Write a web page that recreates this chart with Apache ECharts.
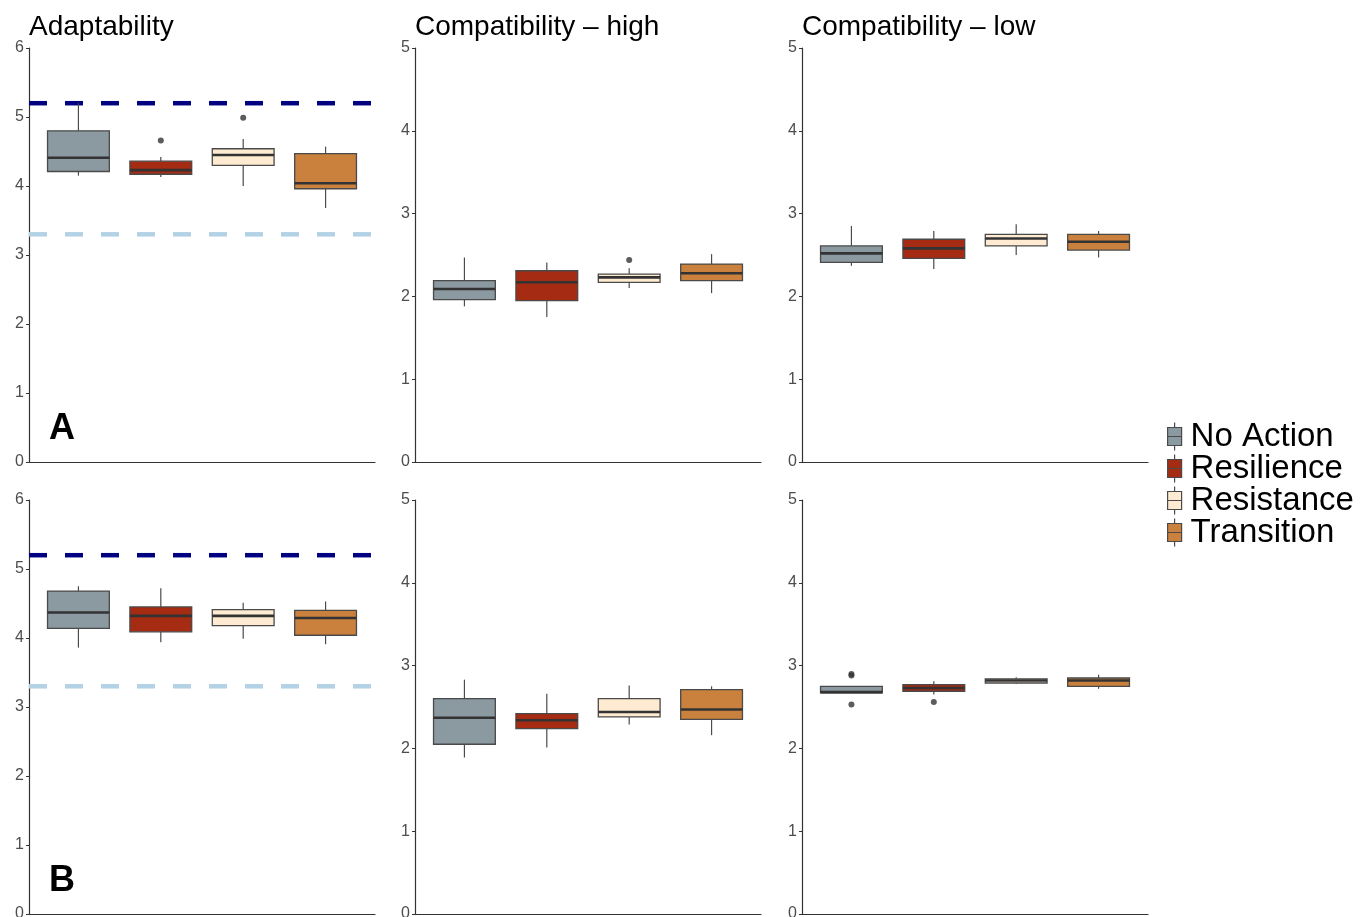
<!DOCTYPE html>
<html>
<head>
<meta charset="utf-8">
<script src="https://cdn.jsdelivr.net/npm/echarts@6/dist/echarts.min.js"></script>
<style>
  html, body { margin: 0; padding: 0; background: #fff; }
  #main { width: 1360px; height: 917px; }
</style>
</head>
<body>
<div id="main"></div>
<script>
// groups (legend order)
const groups = ['No Action', 'Resilience', 'Resistance', 'Transition'];
const groupColors = ['#8B99A1', '#A62B13', '#FEEBD1', '#C9813D'];

// panel titles (top row only) and row letters
const panelTitles = ['Adaptability', 'Compatibility \u2013 high', 'Compatibility \u2013 low'];
const rowLetters = ['A', 'B'];

// y axis maximum per column
const yMax = [6, 5, 5];

// reference lines on the Adaptability panels
const refHigh = 5.2;
const refLow = 3.3;

// box stats per group: [min, Q1, median, Q3, max]
// row A
const adaptA = [
  [4.15, 4.21, 4.41, 4.80, 5.20],
  [4.13, 4.17, 4.23, 4.36, 4.42],
  [4.00, 4.30, 4.45, 4.54, 4.68],
  [3.68, 3.96, 4.04, 4.47, 4.57]
];
const highA = [
  [1.88, 1.96, 2.09, 2.19, 2.47],
  [1.75, 1.95, 2.17, 2.31, 2.41],
  [2.10, 2.17, 2.23, 2.27, 2.34],
  [2.04, 2.19, 2.28, 2.39, 2.51]
];
const lowA = [
  [2.37, 2.41, 2.52, 2.61, 2.85],
  [2.33, 2.46, 2.58, 2.69, 2.79],
  [2.50, 2.61, 2.70, 2.75, 2.87],
  [2.47, 2.56, 2.66, 2.75, 2.79]
];
// row B
const adaptB = [
  [3.86, 4.14, 4.37, 4.68, 4.75],
  [3.94, 4.09, 4.32, 4.45, 4.72],
  [3.99, 4.18, 4.32, 4.41, 4.51],
  [3.91, 4.04, 4.29, 4.40, 4.53]
];
const highB = [
  [1.89, 2.05, 2.37, 2.60, 2.83],
  [2.01, 2.24, 2.34, 2.42, 2.66],
  [2.29, 2.38, 2.44, 2.60, 2.76],
  [2.16, 2.35, 2.47, 2.71, 2.75]
];
const lowB = [
  [2.67, 2.67, 2.68, 2.75, 2.75],
  [2.65, 2.69, 2.73, 2.77, 2.81],
  [2.78, 2.79, 2.82, 2.84, 2.86],
  [2.72, 2.75, 2.82, 2.85, 2.89]
];

// outliers: [group index (1-based), value]
const adaptAOut = [[2, 4.66], [3, 4.99]];
const highAOut = [[3, 2.44]];
const lowAOut = [];
const adaptBOut = [];
const highBOut = [];
const lowBOut = [[1, 2.88], [1, 2.90], [1, 2.53], [2, 2.56]];

const panels = [
  { stats: adaptA, out: adaptAOut, col: 0, row: 0 },
  { stats: highA, out: highAOut, col: 1, row: 0 },
  { stats: lowA, out: lowAOut, col: 2, row: 0 },
  { stats: adaptB, out: adaptBOut, col: 0, row: 1 },
  { stats: highB, out: highBOut, col: 1, row: 1 },
  { stats: lowB, out: lowBOut, col: 2, row: 1 }
];

const FONT = '"Liberation Sans", Arial, sans-serif';
const colLeft = [29, 415, 802];
const rowTop = [48, 500];
const plotW = 346;
const plotH = 414;
const edge = '#4a4a4a';

// draws one ggplot style box: whiskers with no caps, box, thick median
function renderBox(params, api) {
  const x = api.value(0);
  const lo = api.coord([x, api.value(1)]);
  const q1 = api.coord([x, api.value(2)]);
  const md = api.coord([x, api.value(3)]);
  const q3 = api.coord([x, api.value(4)]);
  const hi = api.coord([x, api.value(5)]);
  const w = api.size([0.75, 0])[0];
  const cx = lo[0];
  const fill = api.visual('color');
  return {
    type: 'group',
    children: [
      { type: 'line', shape: { x1: cx, y1: hi[1], x2: cx, y2: q3[1] }, style: { stroke: edge, lineWidth: 1.2 } },
      { type: 'line', shape: { x1: cx, y1: q1[1], x2: cx, y2: lo[1] }, style: { stroke: edge, lineWidth: 1.2 } },
      { type: 'rect', shape: { x: cx - w / 2, y: q3[1], width: w, height: q1[1] - q3[1] }, style: { fill: fill, stroke: edge, lineWidth: 1.3 } },
      { type: 'line', shape: { x1: cx - w / 2, y1: md[1], x2: cx + w / 2, y2: md[1] }, style: { stroke: '#333', lineWidth: 2.6 } }
    ]
  };
}

const grids = [];
const xAxes = [];
const yAxes = [];
const series = [];

panels.forEach(function (p, i) {
  grids.push({ left: colLeft[p.col], top: rowTop[p.row], width: plotW, height: plotH, outerBoundsMode: 'none' });
  xAxes.push({
    gridIndex: i, type: 'value', min: 0.4, max: 4.6,
    axisLine: { show: true, lineStyle: { color: '#333', width: 1.2 } },
    axisTick: { show: false }, axisLabel: { show: false }, splitLine: { show: false }
  });
  yAxes.push({
    gridIndex: i, type: 'value', min: 0, max: yMax[p.col], interval: 1,
    axisLine: { show: true, lineStyle: { color: '#333', width: 1.2 } },
    axisTick: { show: true, length: 3, lineStyle: { color: '#333' } },
    axisLabel: { color: '#4D4D4D', fontSize: 16, fontFamily: FONT, margin: 5 },
    splitLine: { show: false }
  });

  // dashed reference lines on Adaptability panels
  if (p.col === 0) {
    series.push({
      type: 'line', xAxisIndex: i, yAxisIndex: i, symbol: 'none', silent: true,
      data: [[0.4, refHigh], [4.6, refHigh]],
      lineStyle: { color: '#000080', width: 4.5, type: [18, 18] }, z: 1
    });
    series.push({
      type: 'line', xAxisIndex: i, yAxisIndex: i, symbol: 'none', silent: true,
      data: [[0.4, refLow], [4.6, refLow]],
      lineStyle: { color: '#B4D2E5', width: 4.5, type: [18, 18] }, z: 1
    });
  }

  p.stats.forEach(function (s, g) {
    series.push({
      name: groups[g], type: 'custom', xAxisIndex: i, yAxisIndex: i,
      renderItem: renderBox,
      itemStyle: { color: groupColors[g], borderColor: edge, borderWidth: 1.2 },
      encode: { x: 0, y: [1, 2, 3, 4, 5] },
      data: [[g + 1].concat(s)], z: 2
    });
  });

  if (p.out.length) {
    series.push({
      name: 'outlier', type: 'scatter', xAxisIndex: i, yAxisIndex: i,
      symbolSize: 6, itemStyle: { color: '#333' }, data: p.out, z: 3
    });
  }
});

const titles = panelTitles.map(function (t, c) {
  return {
    text: t, left: colLeft[c], top: 13, padding: 0,
    textStyle: { fontSize: 28, fontWeight: 'normal', color: '#000', fontFamily: FONT }
  };
});
rowLetters.forEach(function (l, r) {
  titles.push({
    text: l, left: 49, top: r === 0 ? 411 : 863, padding: 0,
    textStyle: { fontSize: 36, fontWeight: 'bold', color: '#000', fontFamily: FONT }
  });
});

const chart = echarts.init(document.getElementById('main'), null, { renderer: 'canvas' });
chart.setOption({
  backgroundColor: '#fff',
  animation: false,
  title: titles,
  legend: {
    data: groups, orient: 'vertical', left: 1167, top: 420, itemGap: -1,
    itemWidth: 14, itemHeight: 28, padding: 0,
    icon: 'path://M7,0 L7,5 M0,5 L14,5 L14,23 L0,23 Z M0,14 L14,14 M7,23 L7,28',
    itemStyle: { borderColor: edge, borderWidth: 1.2 },
    textStyle: { fontSize: 33, color: '#000', fontFamily: FONT, padding: [0, 0, 0, 4] }
  },
  grid: grids,
  xAxis: xAxes,
  yAxis: yAxes,
  series: series
});
</script>
</body>
</html>
